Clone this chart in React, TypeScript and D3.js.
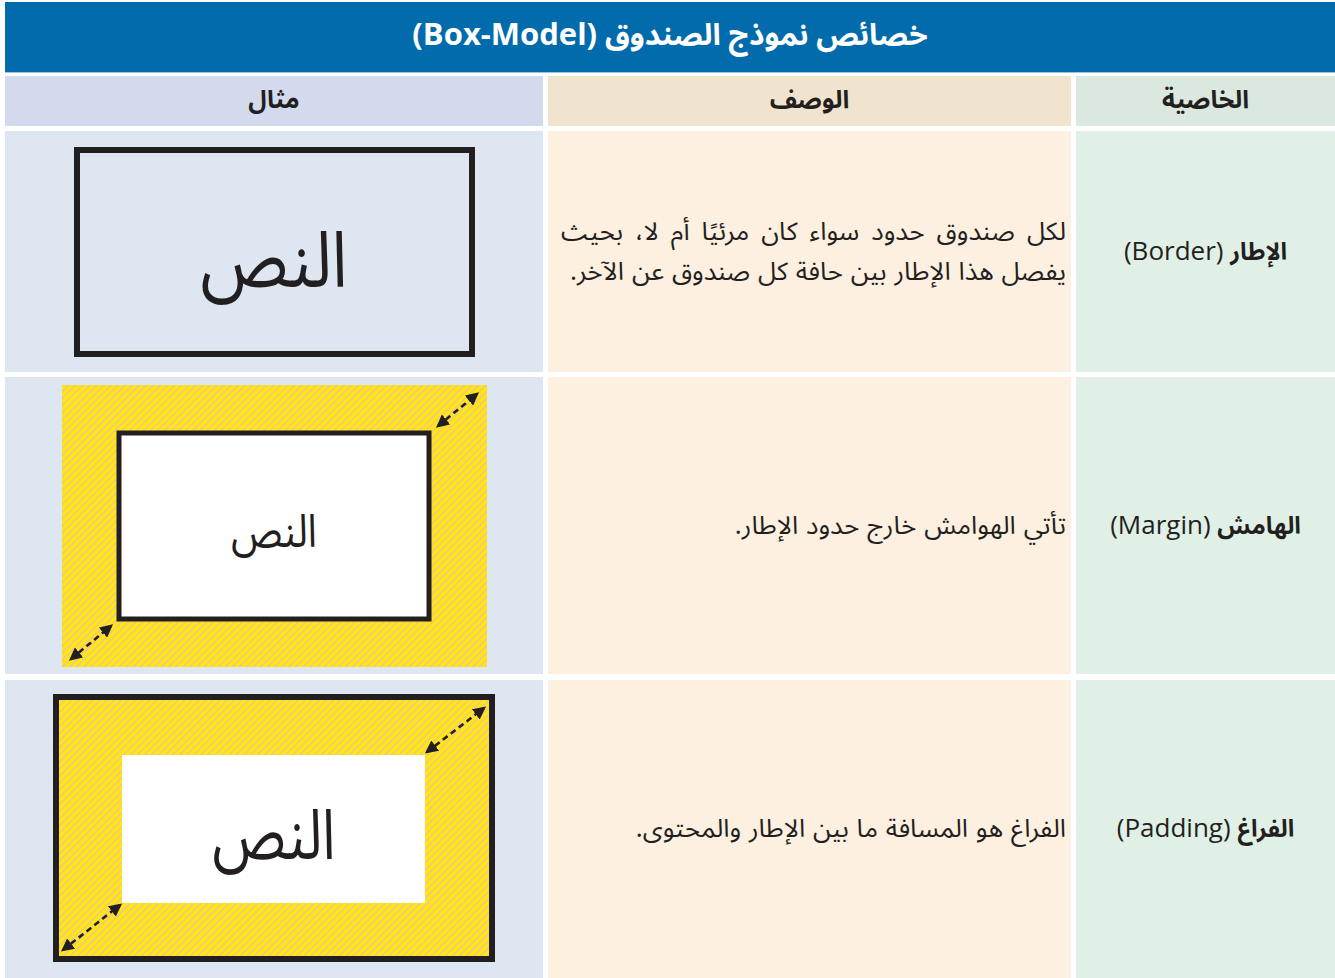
import React from "react";
import * as d3 from "d3";

const TITLE_AR = "خصائص نموذج الصندوق";
const TITLE_EN = "(Box-Model)";
const COLUMN_HEADERS = ["مثال", "الوصف", "الخاصية"];
const PROPERTY_AR = ["الإطار", "الهامش", "الفراغ"];
const PROPERTY_EN = ["(Border)", "(Margin)", "(Padding)"];
const DESCRIPTIONS = [
  ["لكل صندوق حدود سواء كان مرئيًا أم لا، بحيث", "يفصل هذا الإطار بين حافة كل صندوق عن الآخر."],
  ["تأتي الهوامش خارج حدود الإطار."],
  ["الفراغ هو المسافة ما بين الإطار والمحتوى."],
];
const SAMPLE_TEXT = "النص";

const W = 1335;
const H = 978;
const FONT = "'Noto Sans Arabic', 'DejaVu Sans', 'Noto Sans', sans-serif";
const LATIN = "'Open Sans', 'Noto Sans', sans-serif";
const INK = "#231f20";

// layout
const COL_EDGES = [5, 543, 548, 1071, 1076, 1335];
const ROW_EDGES = [131, 372, 377, 674, 680, 978];
const ROW_TEXT_Y = [253, 527, 830];
const HEAD_COLORS = ["#d4daee", "#f1e4cf", "#dae8df"];
const BODY_COLORS = ["#dde6f1", "#fdf0e0", "#e0f0e6"];

const cols = [0, 1, 2].map((i) => ({ x0: COL_EDGES[i * 2], x1: COL_EDGES[i * 2 + 1] }));
const rows = [0, 1, 2].map((i) => ({ y0: ROW_EDGES[i * 2], y1: ROW_EDGES[i * 2 + 1] }));

const Arrow = ({ x1, y1, x2, y2 }: any) => (
  <line x1={x1} y1={y1} x2={x2} y2={y2} stroke={INK} strokeWidth={2.6}
    strokeDasharray="6,4" markerStart="url(#ah)" markerEnd="url(#ah)" />
);

const Sample = ({ x, y, size, sx }: any) => (
  <g transform={`translate(${x},${y}) scale(${sx},1)`}>
    <text x={0} y={0} fontFamily={FONT} fontSize={size} fill={INK} textAnchor="middle"
      dominantBaseline="middle" direction="rtl">{SAMPLE_TEXT}</text>
  </g>
);

export default function App() {
  const descX = cols[1].x1 - 5;
  const cx0 = (cols[0].x0 + cols[0].x1) / 2;
  const cx2 = (cols[2].x0 + cols[2].x1) / 2;
  const lineY = d3.scaleLinear().domain([0, 1]).range([0, 40]);
  return (
    <svg width={W} height={H} style={{ position: "absolute", left: 0, top: 0, background: "#fff" }}>
      <defs>
        <pattern id="hatch" width="5" height="5" patternUnits="userSpaceOnUse" patternTransform="rotate(45)">
          <rect width="5" height="5" fill="#ffea00" />
          <rect width="1.5" height="5" fill="#eebfae" />
        </pattern>
        <marker id="ah" viewBox="0 0 10 10" refX="8" refY="5" markerWidth="5" markerHeight="5"
          orient="auto-start-reverse" markerUnits="strokeWidth">
          <path d="M0,0 L10,5 L0,10 z" fill={INK} />
        </marker>
      </defs>

      {/* title bar */}
      <rect x={5} y={2} width={W - 5} height={70} fill="#016bab" />
      <line x1={5} x2={W} y1={72.5} y2={72.5} stroke="#9cc3df" strokeWidth={1} />
      <text x={(5 + W) / 2} y={37} fill="#fff" fontFamily={FONT} fontWeight="bold" fontSize={30}
        textAnchor="middle" dominantBaseline="middle" direction="rtl">
        <tspan>{TITLE_AR + " "}</tspan>
        <tspan fontFamily={LATIN} fontSize={31}>{TITLE_EN}</tspan>
      </text>

      {/* header row */}
      {cols.map((c, i) => (
        <g key={"h" + i}>
          <rect x={c.x0} y={76} width={c.x1 - c.x0} height={50} fill={HEAD_COLORS[i]} />
          <text x={(c.x0 + c.x1) / 2} y={101} fontFamily={FONT} fontWeight="bold" fontSize={25}
            fill={INK} textAnchor="middle" dominantBaseline="middle" direction="rtl">{COLUMN_HEADERS[i]}</text>
        </g>
      ))}

      {/* body cells */}
      {rows.map((r, ri) => (
        <g key={"r" + ri}>
          {cols.map((c, ci) => (
            <rect key={ci} x={c.x0} y={r.y0} width={c.x1 - c.x0} height={r.y1 - r.y0} fill={BODY_COLORS[ci]} />
          ))}
        </g>
      ))}

      {/* property column */}
      {ROW_TEXT_Y.map((cy, ri) => (
        <text key={"p" + ri} x={cx2} y={cy} fontFamily={FONT} fontSize={24} fill={INK}
          textAnchor="middle" dominantBaseline="middle" direction="rtl">
          <tspan fontWeight="bold">{PROPERTY_AR[ri]}</tspan>
          <tspan fontFamily={LATIN} fontSize={26}>{" " + PROPERTY_EN[ri]}</tspan>
        </text>
      ))}

      {/* description column */}
      {DESCRIPTIONS.map((lines, ri) => {
        const base = ri === 0 ? 233 : ROW_TEXT_Y[ri];
        return (
          <g key={"d" + ri} transform={`translate(${descX},${base}) scale(1.045,1)`}>
            <text x={0} y={0} fontFamily={FONT} fontSize={25} fill={INK}
              textAnchor="start" dominantBaseline="middle" direction="rtl">
              {lines.map((ln, li) => (
                <tspan key={li} x={0} y={lineY(li)} wordSpacing={ri === 0 && li === 0 ? 5 : 1}>{ln}</tspan>
              ))}
            </text>
          </g>
        );
      })}

      {/* example 1: border */}
      <rect x={77} y={150} width={395} height={204} fill="none" stroke={INK} strokeWidth={6} />
      <Sample x={cx0} y={266} size={78} sx={0.86} />

      {/* example 2: margin */}
      <rect x={62} y={385} width={425} height={282} fill="url(#hatch)" />
      <rect x={119} y={433} width={310} height={186} fill="#fff" stroke={INK} strokeWidth={5} />
      <Sample x={cx0} y={535} size={46} sx={0.85} />
      <Arrow x1={438} y1={426} x2={477} y2={394} />
      <Arrow x1={71} y1={659} x2={111} y2={626} />

      {/* example 3: padding */}
      <rect x={56} y={697} width={436} height={262} fill="url(#hatch)" stroke={INK} strokeWidth={6} />
      <rect x={122} y={755} width={303} height={148} fill="#fff" />
      <Sample x={cx0} y={840} size={70} sx={0.8} />
      <Arrow x1={427} y1={752} x2={484} y2={708} />
      <Arrow x1={63} y1={950} x2={120} y2={905} />
    </svg>
  );
}
